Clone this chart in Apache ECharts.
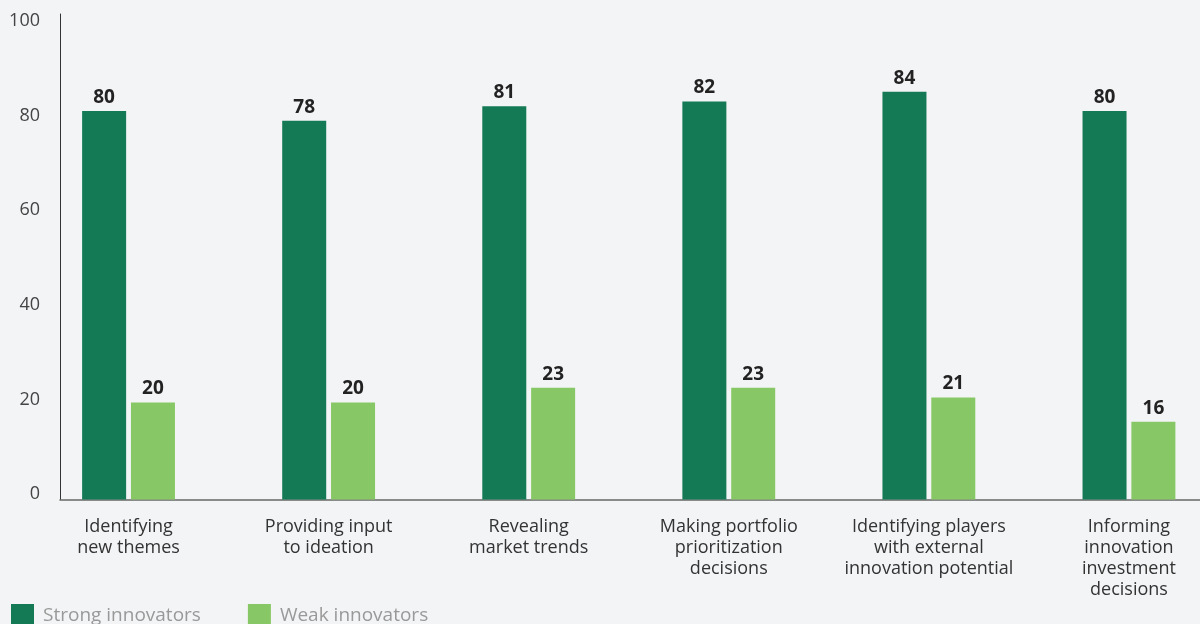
<!DOCTYPE html>
<html>
<head>
<meta charset="utf-8">
<script src="https://cdn.jsdelivr.net/npm/echarts@6/dist/echarts.min.js"></script>
<style>
  html, body { margin: 0; padding: 0; background: #f3f4f6; }
  #barChart { width: 1200px; height: 624px; }
</style>
</head>
<body>
<div id="barChart"></div>
<script>
// chart data
const categories = [
  'Identifying\nnew themes',
  'Providing input\nto ideation',
  'Revealing\nmarket trends',
  'Making portfolio\nprioritization\ndecisions',
  'Identifying players\nwith external\ninnovation potential',
  'Informing\ninnovation\ninvestment\ndecisions'
]
const strongInnovators = [80, 78, 81, 82, 84, 80]
const weakInnovators = [20, 20, 23, 23, 21, 16]
const yMin = 0
const yMax = 100
const yStep = 20

const font = 'Open Sans'
let myChart = echarts.init(document.getElementById('barChart'))

let barLabel = {
  show: true,
  position: 'top',
  distance: 4,
  fontFamily: font,
  fontSize: 19,
  fontWeight: 'bold',
  color: '#222'
}

let options = {
  backgroundColor: '#f3f4f6',
  animation: false,
  legend: {
    left: 11,
    top: 604,
    padding: 0,
    icon: 'rect',
    itemWidth: 23,
    itemHeight: 23,
    itemGap: 47,
    textStyle: { fontFamily: font, fontSize: 19, color: '#999', padding: [0, 0, 0, 4] },
    data: ['Strong innovators', 'Weak innovators']
  },
  grid: [
    // bars
    { left: 28.5, width: 1200.5, top: 14, bottom: 124.5, outerBoundsMode: 'none' },
    // axis lines
    { left: 60, right: 0, top: 14, bottom: 124.5, outerBoundsMode: 'none' },
    // y tick labels
    { left: 60, right: 0, top: 21, bottom: 130, outerBoundsMode: 'none' }
  ],
  xAxis: [
    {
      gridIndex: 0,
      type: 'category',
      data: categories,
      axisLine: { show: false },
      axisTick: { show: false },
      axisLabel: {
        margin: 17,
        interval: 0,
        fontFamily: font,
        fontSize: 18,
        lineHeight: 21,
        color: '#333'
      }
    },
    {
      gridIndex: 1,
      type: 'value',
      axisLine: { show: true, lineStyle: { color: '#666', width: 1.5 } },
      axisTick: { show: false },
      axisLabel: { show: false },
      splitLine: { show: false }
    },
    {
      gridIndex: 2,
      type: 'value',
      show: false
    }
  ],
  yAxis: [
    {
      gridIndex: 0,
      type: 'value',
      min: yMin,
      max: yMax,
      show: false
    },
    {
      gridIndex: 1,
      type: 'value',
      min: yMin,
      max: yMax,
      axisLine: { show: true, lineStyle: { color: '#333', width: 1 } },
      axisTick: { show: false },
      axisLabel: { show: false },
      splitLine: { show: false }
    },
    {
      gridIndex: 2,
      type: 'value',
      min: yMin,
      max: yMax,
      interval: yStep,
      axisLine: { show: false },
      axisTick: { show: false },
      splitLine: { show: false },
      axisLabel: {
        margin: 20,
        fontFamily: font,
        fontSize: 18,
        color: '#444'
      }
    }
  ],
  series: [
    {
      name: 'Strong innovators',
      type: 'bar',
      xAxisIndex: 0,
      yAxisIndex: 0,
      barWidth: 44,
      barGap: '11%',
      itemStyle: { color: '#137a55' },
      label: barLabel,
      data: strongInnovators
    },
    {
      name: 'Weak innovators',
      type: 'bar',
      xAxisIndex: 0,
      yAxisIndex: 0,
      barWidth: 44,
      itemStyle: { color: '#88c765' },
      label: barLabel,
      data: weakInnovators
    }
  ]
}
myChart.setOption(options)
</script>
</body>
</html>
